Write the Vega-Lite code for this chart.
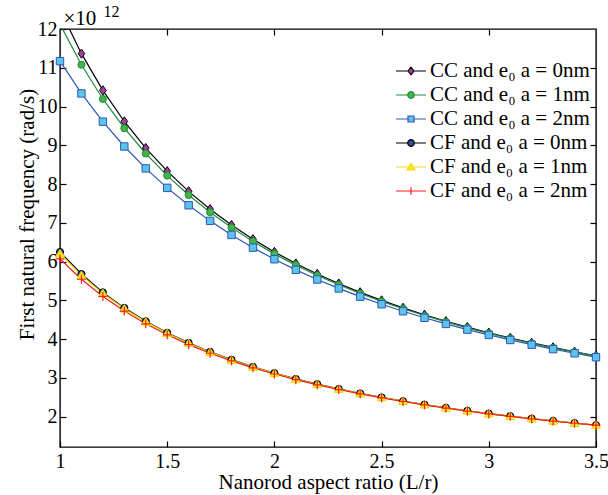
{
"$schema":"https://vega.github.io/schema/vega-lite/v6.json",
"width":536,"height":418,
"autosize":{"type":"none"},
"padding":{"left":60,"top":29,"right":12,"bottom":48},
"background":"white",
"config":{
 "font":"Liberation Serif",
 "view":{"stroke":"black","strokeWidth":1.4},
 "axis":{"grid":false,"domain":false,"tickColor":"black","tickSize":-6,"tickWidth":1.2,"labelColor":"black","labelFontSize":20,"titleFontSize":21,"titleFontWeight":"normal","titleColor":"black","labelFlush":false,"labelOverlap":false,"labelFont":"Liberation Serif","titleFont":"Liberation Serif"}
},
"data":{"values":[
{"ratio":1.0,"series":"cc0","freq":12.5},{"ratio":1.1,"series":"cc0","freq":11.364},{"ratio":1.2,"series":"cc0","freq":10.417},{"ratio":1.3,"series":"cc0","freq":9.615},{"ratio":1.4,"series":"cc0","freq":8.929},{"ratio":1.5,"series":"cc0","freq":8.333},{"ratio":1.6,"series":"cc0","freq":7.813},{"ratio":1.7,"series":"cc0","freq":7.353},{"ratio":1.8,"series":"cc0","freq":6.944},{"ratio":1.9,"series":"cc0","freq":6.579},{"ratio":2.0,"series":"cc0","freq":6.25},{"ratio":2.1,"series":"cc0","freq":5.952},{"ratio":2.2,"series":"cc0","freq":5.682},{"ratio":2.3,"series":"cc0","freq":5.435},{"ratio":2.4,"series":"cc0","freq":5.208},{"ratio":2.5,"series":"cc0","freq":5.0},{"ratio":2.6,"series":"cc0","freq":4.808},{"ratio":2.7,"series":"cc0","freq":4.63},{"ratio":2.8,"series":"cc0","freq":4.464},{"ratio":2.9,"series":"cc0","freq":4.31},{"ratio":3.0,"series":"cc0","freq":4.167},{"ratio":3.1,"series":"cc0","freq":4.032},{"ratio":3.2,"series":"cc0","freq":3.906},{"ratio":3.3,"series":"cc0","freq":3.788},{"ratio":3.4,"series":"cc0","freq":3.676},{"ratio":3.5,"series":"cc0","freq":3.571},
{"ratio":1.0,"series":"cc1","freq":12.124},{"ratio":1.1,"series":"cc1","freq":11.079},{"ratio":1.2,"series":"cc1","freq":10.196},{"ratio":1.3,"series":"cc1","freq":9.441},{"ratio":1.4,"series":"cc1","freq":8.789},{"ratio":1.5,"series":"cc1","freq":8.219},{"ratio":1.6,"series":"cc1","freq":7.718},{"ratio":1.7,"series":"cc1","freq":7.274},{"ratio":1.8,"series":"cc1","freq":6.878},{"ratio":1.9,"series":"cc1","freq":6.522},{"ratio":2.0,"series":"cc1","freq":6.201},{"ratio":2.1,"series":"cc1","freq":5.91},{"ratio":2.2,"series":"cc1","freq":5.645},{"ratio":2.3,"series":"cc1","freq":5.403},{"ratio":2.4,"series":"cc1","freq":5.18},{"ratio":2.5,"series":"cc1","freq":4.975},{"ratio":2.6,"series":"cc1","freq":4.786},{"ratio":2.7,"series":"cc1","freq":4.61},{"ratio":2.8,"series":"cc1","freq":4.446},{"ratio":2.9,"series":"cc1","freq":4.294},{"ratio":3.0,"series":"cc1","freq":4.152},{"ratio":3.1,"series":"cc1","freq":4.019},{"ratio":3.2,"series":"cc1","freq":3.894},{"ratio":3.3,"series":"cc1","freq":3.777},{"ratio":3.4,"series":"cc1","freq":3.666},{"ratio":3.5,"series":"cc1","freq":3.562},
{"ratio":1.0,"series":"cc2","freq":11.171},{"ratio":1.1,"series":"cc2","freq":10.338},{"ratio":1.2,"series":"cc2","freq":9.61},{"ratio":1.3,"series":"cc2","freq":8.97},{"ratio":1.4,"series":"cc2","freq":8.405},{"ratio":1.5,"series":"cc2","freq":7.903},{"ratio":1.6,"series":"cc2","freq":7.454},{"ratio":1.7,"series":"cc2","freq":7.052},{"ratio":1.8,"series":"cc2","freq":6.689},{"ratio":1.9,"series":"cc2","freq":6.361},{"ratio":2.0,"series":"cc2","freq":6.062},{"ratio":2.1,"series":"cc2","freq":5.789},{"ratio":2.2,"series":"cc2","freq":5.54},{"ratio":2.3,"series":"cc2","freq":5.31},{"ratio":2.4,"series":"cc2","freq":5.098},{"ratio":2.5,"series":"cc2","freq":4.902},{"ratio":2.6,"series":"cc2","freq":4.721},{"ratio":2.7,"series":"cc2","freq":4.552},{"ratio":2.8,"series":"cc2","freq":4.394},{"ratio":2.9,"series":"cc2","freq":4.247},{"ratio":3.0,"series":"cc2","freq":4.11},{"ratio":3.1,"series":"cc2","freq":3.98},{"ratio":3.2,"series":"cc2","freq":3.859},{"ratio":3.3,"series":"cc2","freq":3.745},{"ratio":3.4,"series":"cc2","freq":3.637},{"ratio":3.5,"series":"cc2","freq":3.535},
{"ratio":1.0,"series":"cf0","freq":6.25},{"ratio":1.1,"series":"cf0","freq":5.682},{"ratio":1.2,"series":"cf0","freq":5.208},{"ratio":1.3,"series":"cf0","freq":4.808},{"ratio":1.4,"series":"cf0","freq":4.464},{"ratio":1.5,"series":"cf0","freq":4.167},{"ratio":1.6,"series":"cf0","freq":3.906},{"ratio":1.7,"series":"cf0","freq":3.676},{"ratio":1.8,"series":"cf0","freq":3.472},{"ratio":1.9,"series":"cf0","freq":3.289},{"ratio":2.0,"series":"cf0","freq":3.125},{"ratio":2.1,"series":"cf0","freq":2.976},{"ratio":2.2,"series":"cf0","freq":2.841},{"ratio":2.3,"series":"cf0","freq":2.717},{"ratio":2.4,"series":"cf0","freq":2.604},{"ratio":2.5,"series":"cf0","freq":2.5},{"ratio":2.6,"series":"cf0","freq":2.404},{"ratio":2.7,"series":"cf0","freq":2.315},{"ratio":2.8,"series":"cf0","freq":2.232},{"ratio":2.9,"series":"cf0","freq":2.155},{"ratio":3.0,"series":"cf0","freq":2.083},{"ratio":3.1,"series":"cf0","freq":2.016},{"ratio":3.2,"series":"cf0","freq":1.953},{"ratio":3.3,"series":"cf0","freq":1.894},{"ratio":3.4,"series":"cf0","freq":1.838},{"ratio":3.5,"series":"cf0","freq":1.786},
{"ratio":1.0,"series":"cf1","freq":6.204},{"ratio":1.1,"series":"cf1","freq":5.647},{"ratio":1.2,"series":"cf1","freq":5.181},{"ratio":1.3,"series":"cf1","freq":4.787},{"ratio":1.4,"series":"cf1","freq":4.447},{"ratio":1.5,"series":"cf1","freq":4.153},{"ratio":1.6,"series":"cf1","freq":3.895},{"ratio":1.7,"series":"cf1","freq":3.666},{"ratio":1.8,"series":"cf1","freq":3.464},{"ratio":1.9,"series":"cf1","freq":3.282},{"ratio":2.0,"series":"cf1","freq":3.119},{"ratio":2.1,"series":"cf1","freq":2.971},{"ratio":2.2,"series":"cf1","freq":2.837},{"ratio":2.3,"series":"cf1","freq":2.713},{"ratio":2.4,"series":"cf1","freq":2.601},{"ratio":2.5,"series":"cf1","freq":2.497},{"ratio":2.6,"series":"cf1","freq":2.401},{"ratio":2.7,"series":"cf1","freq":2.313},{"ratio":2.8,"series":"cf1","freq":2.23},{"ratio":2.9,"series":"cf1","freq":2.153},{"ratio":3.0,"series":"cf1","freq":2.081},{"ratio":3.1,"series":"cf1","freq":2.014},{"ratio":3.2,"series":"cf1","freq":1.952},{"ratio":3.3,"series":"cf1","freq":1.893},{"ratio":3.4,"series":"cf1","freq":1.837},{"ratio":3.5,"series":"cf1","freq":1.785},
{"ratio":1.0,"series":"cf2","freq":6.071},{"ratio":1.1,"series":"cf2","freq":5.546},{"ratio":1.2,"series":"cf2","freq":5.103},{"ratio":1.3,"series":"cf2","freq":4.725},{"ratio":1.4,"series":"cf2","freq":4.397},{"ratio":1.5,"series":"cf2","freq":4.113},{"ratio":1.6,"series":"cf2","freq":3.861},{"ratio":1.7,"series":"cf2","freq":3.638},{"ratio":1.8,"series":"cf2","freq":3.44},{"ratio":1.9,"series":"cf2","freq":3.262},{"ratio":2.0,"series":"cf2","freq":3.102},{"ratio":2.1,"series":"cf2","freq":2.956},{"ratio":2.2,"series":"cf2","freq":2.824},{"ratio":2.3,"series":"cf2","freq":2.702},{"ratio":2.4,"series":"cf2","freq":2.591},{"ratio":2.5,"series":"cf2","freq":2.488},{"ratio":2.6,"series":"cf2","freq":2.393},{"ratio":2.7,"series":"cf2","freq":2.306},{"ratio":2.8,"series":"cf2","freq":2.224},{"ratio":2.9,"series":"cf2","freq":2.147},{"ratio":3.0,"series":"cf2","freq":2.076},{"ratio":3.1,"series":"cf2","freq":2.01},{"ratio":3.2,"series":"cf2","freq":1.947},{"ratio":3.3,"series":"cf2","freq":1.889},{"ratio":3.4,"series":"cf2","freq":1.833},{"ratio":3.5,"series":"cf2","freq":1.782}
]},
"layer":[
 {
  "encoding":{
   "x":{"field":"ratio","type":"quantitative","scale":{"domain":[1,3.5],"nice":false,"zero":false},"axis":{"title":"Nanorod aspect ratio (L/r)","values":[1,1.5,2,2.5,3,3.5],"format":"~g","labelPadding":10,"titlePadding":0}},
   "y":{"field":"freq","type":"quantitative","scale":{"domain":[1.22,12],"nice":false,"zero":false},"axis":{"title":"First natural frequency (rad/s)","values":[2,3,4,5,6,7,8,9,10,11,12],"format":"~g","labelPadding":9,"titleX":-33,"titleY":185,"titleAlign":"center","titleAngle":-90,"titleBaseline":"middle"}}
  },
  "layer":[
   {"mark":{"type":"line","clip":true,"strokeWidth":1.2},
    "encoding":{"stroke":{"field":"series","type":"nominal","scale":{"domain":["cc0","cc1","cc2","cf0","cf1","cf2"],"range":["#000000","#1e8c3c","#2e56b8","#000000","#ecdc10","#ff1a1a"]}}}},
   {"transform":[{"filter":"datum.freq > 12"}],
    "mark":{"type":"point","filled":true,"clip":true,"opacity":1,"strokeWidth":1.2,"size":400},
    "encoding":{
     "shape":{"field":"series","type":"nominal","scale":{"domain":["cc0","cc1","cc2","cf0","cf1","cf2"],"range":["M-1.5,0H-0.3M0.3,0H1.5M0,-0.38L0.3,0L0,0.38L-0.3,0Z","M-1.5,0H-0.33M0.33,0H1.5M0.33,0L0.286,0.165L0.165,0.286L0,0.33L-0.165,0.286L-0.286,0.165L-0.33,0L-0.286,-0.165L-0.165,-0.286L0,-0.33L0.165,-0.286L0.286,-0.165Z","M-1.5,0H-0.3M0.3,0H1.5M-0.3,-0.3H0.3V0.3H-0.3Z","M-1.5,0H-0.33M0.33,0H1.5M0.33,0L0.286,0.165L0.165,0.286L0,0.33L-0.165,0.286L-0.286,0.165L-0.33,0L-0.286,-0.165L-0.165,-0.286L0,-0.33L0.165,-0.286L0.286,-0.165Z","M-1.5,0H-0.25M0.25,0H1.5M0,-0.36L0.4,0.3H-0.4Z","M-1.5,0H1.5M0,-0.38V0.38"]},
      "legend":{"title":null,"orient":"none","legendX":340,"legendY":31,"padding":0,"symbolSize":400,"symbolStrokeWidth":1.2,"labelFontSize":21,"labelColor":"black","labelOffset":8,"rowPadding":3,"labelLimit":400,"labelFont":"Liberation Serif","symbolOpacity":1,
       "labelExpr":"datum.value == 'cc0' ? 'CC and e₀ a = 0nm' : datum.value == 'cc1' ? 'CC and e₀ a = 1nm' : datum.value == 'cc2' ? 'CC and e₀ a = 2nm' : datum.value == 'cf0' ? 'CF and e₀ a = 0nm' : datum.value == 'cf1' ? 'CF and e₀ a = 1nm' : 'CF and e₀ a = 2nm'"}},
     "fill":{"field":"series","type":"nominal","scale":{"domain":["cc0","cc1","cc2","cf0","cf1","cf2"],"range":["#a3409b","#45b24a","#5cc4e8","#2d4f9e","#ffe812","#ff1a1a"]}},
     "stroke":{"field":"series","type":"nominal"}
    }},
   {"transform":[{"filter":"datum.series == 'cc0' && datum.freq <= 12"}],
    "mark":{"type":"point","filled":true,"opacity":1,"strokeWidth":1,"size":55,"shape":"M0,-1.25L0.9,0L0,1.25L-0.9,0Z"},
    "encoding":{"fill":{"field":"series","type":"nominal"},"stroke":{"field":"series","type":"nominal"}}},
   {"transform":[{"filter":"datum.series == 'cc1' && datum.freq <= 12"}],
    "mark":{"type":"point","filled":true,"opacity":1,"strokeWidth":1,"size":50,"shape":"circle"},
    "encoding":{"fill":{"field":"series","type":"nominal"},"stroke":{"field":"series","type":"nominal"}}},
   {"transform":[{"filter":"datum.series == 'cc2' && datum.freq <= 12"}],
    "mark":{"type":"point","filled":true,"opacity":1,"strokeWidth":1,"size":55,"shape":"square"},
    "encoding":{"fill":{"field":"series","type":"nominal"},"stroke":{"field":"series","type":"nominal"}}},
   {"transform":[{"filter":"datum.series == 'cf0' && datum.freq <= 12"}],
    "mark":{"type":"point","filled":true,"opacity":1,"strokeWidth":1,"size":50,"shape":"circle"},
    "encoding":{"fill":{"field":"series","type":"nominal"},"stroke":{"field":"series","type":"nominal"}}},
   {"transform":[{"filter":"datum.series == 'cf1' && datum.freq <= 12"}],
    "mark":{"type":"point","filled":true,"opacity":1,"strokeWidth":1,"size":55,"shape":"M0,-1.1L1.2,0.9H-1.2Z"},
    "encoding":{"fill":{"field":"series","type":"nominal"},"stroke":{"field":"series","type":"nominal"}}},
   {"transform":[{"filter":"datum.series == 'cf2' && datum.freq <= 12"}],
    "mark":{"type":"point","filled":true,"opacity":1,"strokeWidth":1.2,"size":55,"shape":"M-1.2,0H1.2M0,-1.2V1.2"},
    "encoding":{"fill":{"field":"series","type":"nominal"},"stroke":{"field":"series","type":"nominal"}}}
  ]
 },
 {
  "mark":{"type":"point","opacity":0},
  "encoding":{
   "x":{"field":"ratio","type":"quantitative","axis":{"orient":"top","labels":false,"values":[1.5,2,2.5,3],"title":"×10","titleX":3,"titleY":-5,"titleAlign":"left","titleBaseline":"alphabetic","titleAngle":0,"titleFontSize":21}},
   "y":{"field":"freq","type":"quantitative","axis":{"orient":"right","labels":false,"values":[2,3,4,5,6,7,8,9,10,11],"title":"12","titleX":-493,"titleY":-13,"titleAlign":"left","titleBaseline":"alphabetic","titleAngle":0,"titleFontSize":16}}
  }
 }
],
"resolve":{"axis":{"x":"independent","y":"independent"}}
}
